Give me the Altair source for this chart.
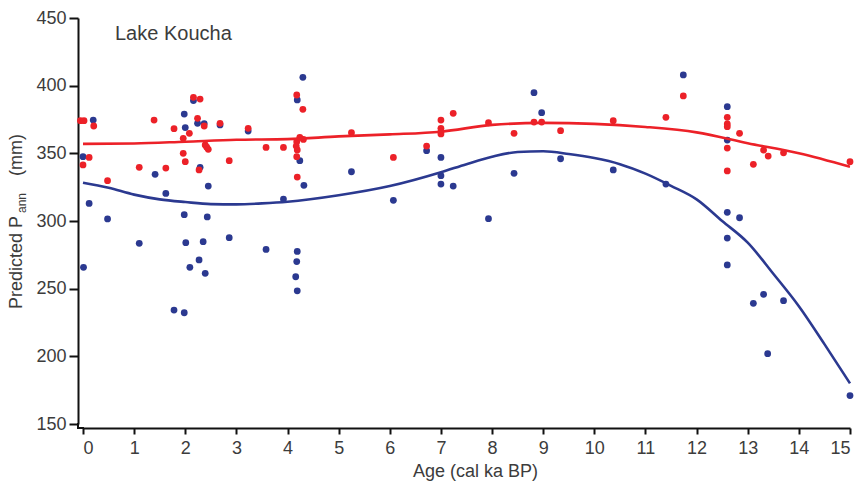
import altair as alt
import pandas as pd

# ---------------- data ----------------
blue_age = [0.0, 0.01, 0.12, 0.20, 0.48, 1.10, 1.41, 1.62, 1.78, 1.98, 1.98, 2.00, 1.98,
            2.01, 2.09, 2.16, 2.24, 2.37, 2.68, 3.23, 2.29, 2.45, 2.43, 2.86, 2.35, 2.27,
            2.39, 3.92, 3.58, 4.19, 4.30, 4.24, 4.32, 4.19, 4.18, 4.16, 4.19, 5.25, 6.07,
            6.72, 7.00, 7.00, 7.00, 7.24, 7.93, 8.43, 8.82, 8.97, 9.34, 10.37, 11.40,
            11.74, 12.60, 12.60, 12.60, 12.84, 12.60, 12.60, 13.11, 13.31, 13.39, 13.70, 15.0]
blue_val = [347.5, 265.8, 313.0, 374.6, 301.5, 283.5, 334.5, 320.4, 234.2, 232.2, 379.0, 369.0, 304.7,
            284.0, 265.8, 389.0, 372.2, 372.0, 371.0, 366.5, 339.7, 325.8, 303.0, 287.7, 284.7, 271.2,
            261.3, 316.2, 279.0, 389.5, 406.2, 344.6, 326.4, 277.5, 270.0, 258.8, 248.4, 336.4, 315.3,
            352.0, 347.0, 327.3, 333.5, 325.8, 301.7, 335.2, 394.8, 380.0, 346.0, 337.7, 327.3,
            407.9, 384.5, 359.8, 306.4, 302.4, 287.4, 267.5, 239.2, 245.8, 202.0, 241.1, 171.0]

red_age = [-0.05, 0.02, 0.21, 0.12, 0.0, 0.48, 1.10, 1.39, 1.62, 1.78, 1.96, 1.96, 2.00, 2.08,
           2.16, 2.29, 2.24, 2.37, 2.39, 2.42, 2.45, 2.27, 2.68, 2.86, 3.23, 3.58, 3.92,
           4.18, 4.19, 4.30, 4.24, 4.31, 4.18, 4.17, 4.19, 4.18, 5.25, 6.07, 6.72,
           7.00, 7.00, 7.00, 7.00, 7.24, 7.93, 8.43, 8.82, 8.97, 9.34, 10.37, 11.40, 11.74,
           12.60, 12.60, 12.60, 12.84, 12.60, 12.60, 13.11, 13.31, 13.40, 13.70, 15.0]
red_val = [374.1, 374.1, 370.2, 347.0, 341.4, 329.8, 339.7, 374.6, 339.1, 368.2, 361.1, 350.0, 343.8, 364.8,
           391.4, 390.1, 375.9, 370.2, 356.2, 354.5, 353.0, 337.7, 372.2, 344.6, 368.5, 354.4, 354.4,
           393.1, 332.5, 382.5, 361.8, 360.3, 358.6, 355.4, 352.5, 347.5, 365.2, 347.0, 355.4,
           374.6, 368.5, 366.0, 364.3, 379.6, 372.6, 364.8, 373.1, 373.1, 366.7, 374.1, 376.6, 392.4,
           376.6, 371.7, 369.7, 364.8, 353.9, 337.0, 341.9, 352.4, 348.0, 350.4, 343.8]

blue_fit_age = [0, 0.5, 1, 1.5, 2, 2.5, 3, 3.5, 4, 5, 6, 7, 7.5, 8, 8.5, 9, 9.5, 10,
                10.5, 11, 11.5, 12, 12.5, 13, 13.5, 14, 14.5, 15]
blue_fit_val = [328.3, 324.5, 319.5, 316.0, 314.0, 312.5, 312.3, 313.0, 314.2, 319.0, 325.8,
                336.0, 342.0, 347.5, 351.0, 351.5, 349.5, 346.5, 342.0, 335.0, 326.0, 316.0,
                300.0, 284.0, 261.0, 237.0, 209.0, 180.0]

red_fit_age = [0, 1, 2, 3, 4, 5, 6, 7, 8, 9, 10, 11, 12, 13, 14, 15]
red_fit_val = [357.0, 357.3, 358.6, 360.0, 360.5, 362.5, 364.0, 366.0, 371.0, 372.5, 371.8,
               369.5, 365.5, 357.5, 350.0, 340.0]

x_ticks = list(range(0, 16))
y_ticks = [150, 200, 250, 300, 350, 400, 450]
panel_label = ["Lake Koucha"]
y_title_parts = ["Predicted P", "ann", "(mm)"]
x_title = "Age (cal ka BP)"

RED = "#ec2128"
BLUE = "#2b3990"
FONT = "Liberation Sans"
TXT = "#3c3c3c"

# ---------------- chart ----------------
blue_df = pd.DataFrame({"age": blue_age, "val": blue_val})
red_df = pd.DataFrame({"age": red_age, "val": red_val})
bfit = pd.DataFrame({"age": blue_fit_age, "val": blue_fit_val})
rfit = pd.DataFrame({"age": red_fit_age, "val": red_fit_val})

xs = alt.Scale(domain=[0, 15], nice=False, zero=False)
ys = alt.Scale(domain=[150, 450], nice=False, zero=False)

x_axis = alt.Axis(values=x_ticks, title=x_title, grid=False, offset=4,
                  domainColor="#111", domainWidth=2, tickColor="#111", tickWidth=2,
                  tickSize=6, labelFontSize=18, labelFont=FONT, labelColor=TXT,
                  labelPadding=5, titleFont=FONT, titleFontSize=18, titleFontWeight="normal",
                  titleColor=TXT, titleX=392, titleY=43, titleBaseline="middle", titleAlign="center")
y_axis = alt.Axis(values=y_ticks, title=None, grid=False, offset=5,
                  domainColor="#111", domainWidth=2, tickColor="#111", tickWidth=2,
                  tickSize=9, labelFontSize=18, labelFont=FONT, labelColor=TXT,
                  labelPadding=3)

X = alt.X("age:Q", scale=xs, axis=x_axis)
Y = alt.Y("val:Q", scale=ys, axis=y_axis)

blue_pts = alt.Chart(blue_df).mark_circle(size=46, opacity=1, color=BLUE).encode(x=X, y=Y)
red_pts = alt.Chart(red_df).mark_circle(size=46, opacity=1, color=RED).encode(x=X, y=Y)
blue_line = alt.Chart(bfit).mark_line(color=BLUE, strokeWidth=2.6, interpolate="monotone").encode(x=X, y=Y)
red_line = alt.Chart(rfit).mark_line(color=RED, strokeWidth=2.6, interpolate="monotone").encode(x=X, y=Y)

# corner joining the two offset axis lines
corner_h = alt.Chart(pd.DataFrame({"k": [0]})).mark_rule(color="#111", strokeWidth=2).encode(
    x=alt.value(-6), x2=alt.value(1), y=alt.value(410))
corner_v = alt.Chart(pd.DataFrame({"k": [0]})).mark_rule(color="#111", strokeWidth=2).encode(
    x=alt.value(-5), y=alt.value(405), y2=alt.value(411))

label = alt.Chart(pd.DataFrame({"t": panel_label})).mark_text(
    font=FONT, fontSize=20, color=TXT, align="left", baseline="alphabetic"
).encode(x=alt.value(32), y=alt.value(22), text="t:N")

yt1 = alt.Chart(pd.DataFrame({"t": [y_title_parts[0]]})).mark_text(
    font=FONT, fontSize=18, color=TXT, align="left", baseline="middle", angle=270
).encode(x=alt.value(-66), y=alt.value(291), text="t:N")
yt2 = alt.Chart(pd.DataFrame({"t": [y_title_parts[1]]})).mark_text(
    font=FONT, fontSize=12, color=TXT, align="left", baseline="middle", angle=270
).encode(x=alt.value(-61), y=alt.value(195), text="t:N")
yt3 = alt.Chart(pd.DataFrame({"t": [y_title_parts[2]]})).mark_text(
    font=FONT, fontSize=18, color=TXT, align="left", baseline="middle", angle=270
).encode(x=alt.value(-66), y=alt.value(158), text="t:N")

chart = alt.layer(blue_pts, blue_line, red_pts, red_line, corner_h, corner_v,
                  label, yt1, yt2, yt3).properties(
    width=767, height=406,
    autosize=alt.AutoSizeParams(type="none"),
    padding={"left": 83, "top": 18, "right": 17, "bottom": 61},
    background="white",
).configure_view(stroke=None)

chart.save("out.html", embed_options={"renderer": "svg", "actions": False})
